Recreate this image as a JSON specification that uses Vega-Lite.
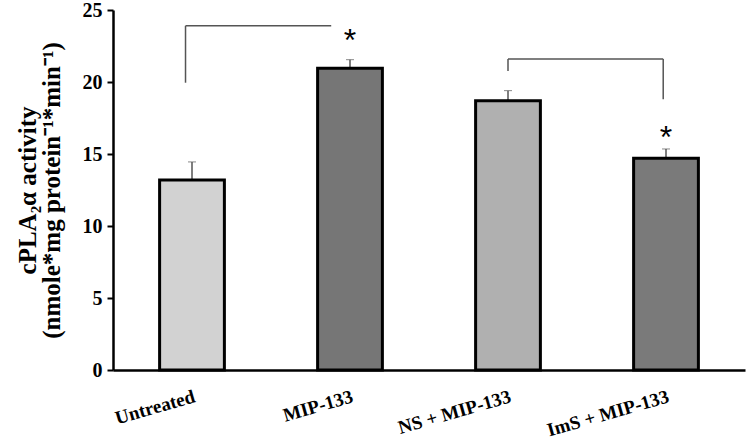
{
  "$schema": "https://vega.github.io/schema/vega-lite/v6.json",
  "width": 632,
  "height": 360,
  "autosize": "none",
  "padding": {"left": 113, "top": 10, "right": 2, "bottom": 71},
  "background": "white",
  "config": {
    "view": {"stroke": null},
    "font": "Liberation Serif"
  },
  "datasets": {
    "bars": [
      {"group": "Untreated", "mean": 13.2, "sem": 1.25},
      {"group": "MIP-133", "mean": 20.95, "sem": 0.6},
      {"group": "NS + MIP-133", "mean": 18.7, "sem": 0.7},
      {"group": "ImS + MIP-133", "mean": 14.7, "sem": 0.65}
    ],
    "brackets": [
      {"seg": "b1v", "from": "Untreated", "to": "Untreated", "lo": 19.95, "hi": 23.9},
      {"seg": "b1h", "from": "Untreated", "to": "MIP-133", "lo": 23.9, "hi": 23.9},
      {"seg": "b2l", "from": "NS + MIP-133", "to": "NS + MIP-133", "lo": 20.76, "hi": 21.6},
      {"seg": "b2h", "from": "NS + MIP-133", "to": "ImS + MIP-133", "lo": 21.6, "hi": 21.6},
      {"seg": "b2r", "from": "ImS + MIP-133", "to": "ImS + MIP-133", "lo": 18.8, "hi": 21.6}
    ],
    "stars": [
      {"group": "MIP-133", "y": 23.4},
      {"group": "ImS + MIP-133", "y": 16.65}
    ]
  },
  "encoding": {
    "x": {
      "field": "group",
      "type": "nominal",
      "scale": {"domain": ["Untreated", "MIP-133", "NS + MIP-133", "ImS + MIP-133"], "paddingInner": 0.59, "paddingOuter": 0.295},
      "axis": {
        "title": null,
        "labelAngle": -16,
        "labelFont": "Liberation Serif",
        "labelFontWeight": "bold",
        "labelFontSize": 19,
        "labelColor": "black",
        "labelPadding": 17,
        "ticks": false,
        "domainColor": "black",
        "domainWidth": 2.5
      }
    }
  },
  "layer": [
    {
      "data": {"name": "bars"},
      "mark": {"type": "errorbar", "ticks": {"size": 8, "color": "#555555", "strokeWidth": 1.5}, "rule": {"color": "#555555", "strokeWidth": 1.5}},
      "encoding": {
        "y": {
          "field": "mean",
          "type": "quantitative",
          "scale": {"domain": [0, 25], "nice": false},
          "axis": {
            "values": [0, 5, 10, 15, 20, 25],
            "grid": false,
            "title": ["cPLA₂α activity", "(nmole*mg protein⁻¹*min⁻¹)"],
            "titleFont": "Liberation Serif",
            "titleFontWeight": "bold",
            "titleFontSize": 25,
            "titleColor": "black",
            "titleLineHeight": 24,
            "titlePadding": 18,
            "labelFont": "Liberation Serif",
            "labelFontWeight": "bold",
            "labelFontSize": 20,
            "labelColor": "black",
            "labelPadding": 5,
            "tickSize": 6,
            "tickColor": "black",
            "tickWidth": 2,
            "domainColor": "black",
            "domainWidth": 2.5
          }
        },
        "yError": {"field": "sem"}
      }
    },
    {
      "data": {"name": "bars"},
      "mark": {"type": "bar", "stroke": "black", "strokeWidth": 3},
      "encoding": {
        "y": {"field": "mean", "type": "quantitative"},
        "fill": {
          "field": "group",
          "type": "nominal",
          "scale": {
            "domain": ["Untreated", "MIP-133", "NS + MIP-133", "ImS + MIP-133"],
            "range": ["#d2d2d2", "#767676", "#b0b0b0", "#7a7a7a"]
          },
          "legend": null
        }
      }
    },
    {
      "data": {"name": "brackets"},
      "transform": [{"filter": "datum.seg === 'b1v'"}],
      "mark": {"type": "rule", "color": "#555555", "strokeWidth": 1.5},
      "encoding": {
        "x": {"field": "from", "type": "nominal", "bandPosition": 0.4},
        "y": {"field": "lo", "type": "quantitative"},
        "y2": {"field": "hi"}
      }
    },
    {
      "data": {"name": "brackets"},
      "transform": [{"filter": "datum.seg === 'b1h'"}],
      "mark": {"type": "rule", "color": "#555555", "strokeWidth": 1.5},
      "encoding": {
        "x": {"field": "from", "type": "nominal", "bandPosition": 0.4},
        "x2": {"field": "to", "bandPosition": 0.21},
        "y": {"field": "hi", "type": "quantitative"}
      }
    },
    {
      "data": {"name": "brackets"},
      "transform": [{"filter": "datum.seg === 'b2l'"}],
      "mark": {"type": "rule", "color": "#555555", "strokeWidth": 1.5},
      "encoding": {
        "x": {"field": "from", "type": "nominal", "bandPosition": 0.5},
        "y": {"field": "lo", "type": "quantitative"},
        "y2": {"field": "hi"}
      }
    },
    {
      "data": {"name": "brackets"},
      "transform": [{"filter": "datum.seg === 'b2h'"}],
      "mark": {"type": "rule", "color": "#555555", "strokeWidth": 1.5},
      "encoding": {
        "x": {"field": "from", "type": "nominal", "bandPosition": 0.5},
        "x2": {"field": "to", "bandPosition": 0.457},
        "y": {"field": "hi", "type": "quantitative"}
      }
    },
    {
      "data": {"name": "brackets"},
      "transform": [{"filter": "datum.seg === 'b2r'"}],
      "mark": {"type": "rule", "color": "#555555", "strokeWidth": 1.5},
      "encoding": {
        "x": {"field": "from", "type": "nominal", "bandPosition": 0.457},
        "y": {"field": "lo", "type": "quantitative"},
        "y2": {"field": "hi"}
      }
    },
    {
      "data": {"name": "stars"},
      "mark": {"type": "text", "text": "*", "font": "Liberation Sans", "fontSize": 32, "baseline": "alphabetic", "dy": 18, "color": "black"},
      "encoding": {
        "y": {"field": "y", "type": "quantitative"}
      }
    }
  ]
}
